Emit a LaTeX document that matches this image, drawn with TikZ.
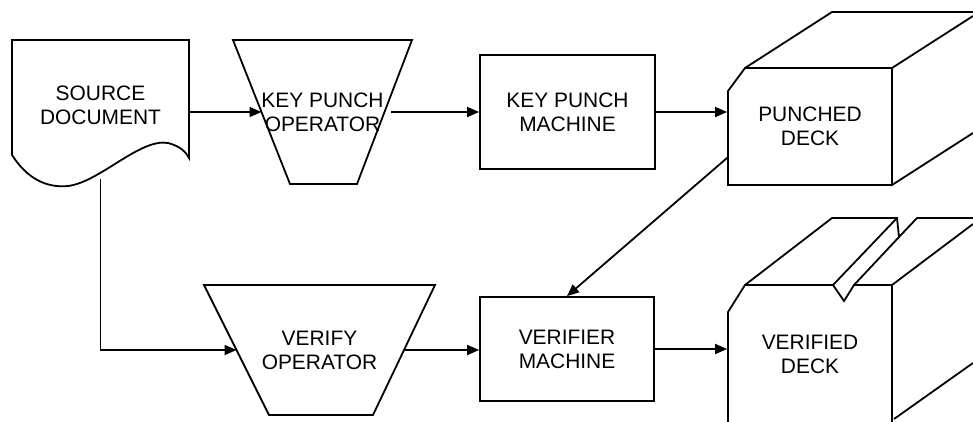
\documentclass[tikz,border=0pt]{standalone}
\usepackage{fontspec}
\setmainfont{Liberation Sans}
\usetikzlibrary{arrows.meta}
\begin{document}
\begin{tikzpicture}[x=1bp,y=-1bp,>={Triangle[length=12bp,width=10bp]},line width=1.8bp,
  every node/.style={font=\fontsize{21}{24}\selectfont,align=center,inner sep=0pt},
  machine/.style={rectangle,draw},
  deck/.style={rectangle,draw=none,minimum width=164bp}]
\useasboundingbox (0,0) rectangle (973,421);
\clip (0,0) rectangle (973,421);
%%
\node (src) at (100.5,105) [minimum width=177bp,minimum height=130bp] {SOURCE\\DOCUMENT};
  \node (kpo) at (322.5,112) {KEY PUNCH\\OPERATOR};
  \coordinate (kpo_in) at (261.5,112);
  \coordinate (kpo_out) at (391,112);
  \node (kpm) at (567.5,112) [machine,minimum width=175bp,minimum height=114bp] {KEY PUNCH\\MACHINE};
  \node (pdeck) at (810,126.5) [deck,minimum height=117bp] {PUNCHED\\DECK};
  \node (vo) at (319.5,350) {VERIFY\\OPERATOR};
  \coordinate (vo_in) at (236.5,350);
  \coordinate (vo_out) at (404,350);
  \node (vm) at (567,349) [machine,minimum width=174bp,minimum height=104bp] {VERIFIER\\MACHINE};
  \node (vdeck) at (810,354) [deck,minimum height=138bp] {VERIFIED\\DECK};
%
\draw (12,40) -- (189,40) -- (189,158) .. controls (186,152) and (180,146) .. (168,143)
  .. controls (140,138) and (100,182) .. (68,186) .. controls (48,188) and (28,180) .. (12,155) -- cycle;
\draw (233,40) -- (412,40) -- (357,184) -- (290,184) -- cycle;
\draw (204,285) -- (435,285) -- (373,415) -- (269,415) -- cycle;
\draw (728,185) -- (728,91) -- (745,68) -- (892,68) -- (892,185) -- cycle;
\draw (745,68) -- (832,12) -- (973,12);
\draw (892,68) -- (973,16);
\draw (892,185) -- (973,133);
\draw (728,425) -- (728,312) -- (745,285) -- (833,285) -- (844,301) -- (854,285) -- (892,285) -- (892,425);
\draw (745,285) -- (832,218) -- (897,218) -- (899,237) -- (917,218) -- (973,218);
\draw (833,285) -- (897,218);
\draw (854,285) -- (899,237);
\draw (892,285) -- (973,224);
\draw (894,419) -- (973,363);
%
\draw [->] (src.east |- kpo_in) -- (kpo_in);
\draw [->] (kpo_out) -- (kpm);
\draw [->] (kpm) -- (kpm -| pdeck.west);
\draw [->] ([yshift=28bp]pdeck.south west) -- (vm.north);
\draw [->] ([yshift=-8bp]src.south) |- (vo_in);
\draw [->] (vo_out) -- (vo_out -| vm.west);
\draw [->] (vm) -- (vm -| vdeck.west);
%
\end{tikzpicture}
\end{document}
